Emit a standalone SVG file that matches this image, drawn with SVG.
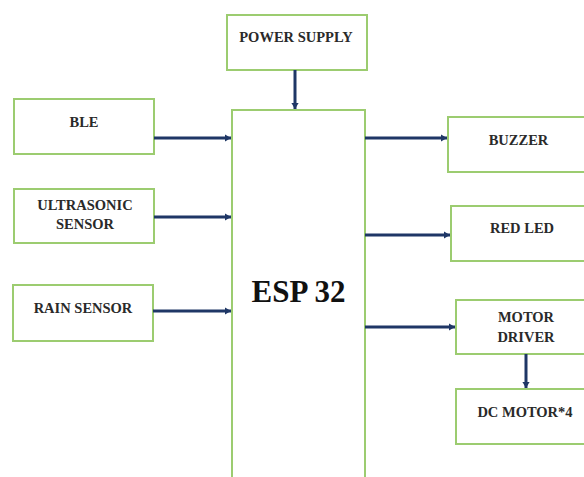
<svg xmlns="http://www.w3.org/2000/svg" width="584" height="477" viewBox="0 0 584 477">
<defs>
<style>
.box{fill:#fff;stroke:#9ccc70;stroke-width:2}
.lbl{font-family:"Liberation Serif","Times New Roman",serif;font-weight:bold;font-size:14.5px;fill:#2a2a2a;text-anchor:middle}
.big{font-family:"Liberation Serif","Times New Roman",serif;font-weight:bold;font-size:31px;fill:#111;text-anchor:middle}
.con{stroke:#1f3766;stroke-width:3;fill:none;marker-end:url(#ah)}
</style>
<marker id="ah" markerWidth="3" markerHeight="4" refX="2" refY="2" orient="auto" markerUnits="strokeWidth">
<path d="M0,0.8 L2,2 L0,3.2 Z" fill="#1f3766"/>
</marker>
</defs>
<rect width="584" height="477" fill="#fff"/>
<g id="esp32">
<path class="box" d="M232,480 L232,110 L365,110 L365,480"/>
<text class="big" x="298.5" y="302">ESP 32</text>
</g>
<g id="power-supply">
<rect class="box" x="227" y="15" width="140" height="55"/>
<text class="lbl" x="296" y="42">POWER SUPPLY</text>
</g>
<g id="ble">
<rect class="box" x="14" y="99" width="140" height="55"/>
<text class="lbl" x="84" y="127">BLE</text>
</g>
<g id="ultrasonic">
<rect class="box" x="14" y="189" width="140" height="54"/>
<text class="lbl" x="85" y="210">ULTRASONIC</text>
<text class="lbl" x="85" y="229">SENSOR</text>
</g>
<g id="rain">
<rect class="box" x="13" y="285" width="140" height="56"/>
<text class="lbl" x="83" y="313">RAIN SENSOR</text>
</g>
<g id="buzzer">
<rect class="box" x="448" y="117" width="150" height="55"/>
<text class="lbl" x="518.5" y="145">BUZZER</text>
</g>
<g id="red-led">
<rect class="box" x="451" y="206" width="150" height="55"/>
<text class="lbl" x="522" y="233">RED LED</text>
</g>
<g id="motor-driver">
<rect class="box" x="456" y="300" width="150" height="54"/>
<text class="lbl" x="526" y="322">MOTOR</text>
<text class="lbl" x="526" y="342">DRIVER</text>
</g>
<g id="dc-motor">
<rect class="box" x="456" y="389" width="150" height="55"/>
<text class="lbl" x="525" y="417">DC MOTOR*4</text>
</g>
<g id="connectors">
<line class="con" x1="295" y1="70" x2="295" y2="109"/>
<line class="con" x1="154" y1="138" x2="231" y2="138"/>
<line class="con" x1="154" y1="217" x2="231" y2="217"/>
<line class="con" x1="153" y1="311" x2="231" y2="311"/>
<line class="con" x1="365" y1="138" x2="447" y2="138"/>
<line class="con" x1="365" y1="235" x2="450" y2="235"/>
<line class="con" x1="365" y1="327" x2="455" y2="327"/>
<line class="con" x1="526" y1="354" x2="526" y2="388"/>
</g>
</svg>
